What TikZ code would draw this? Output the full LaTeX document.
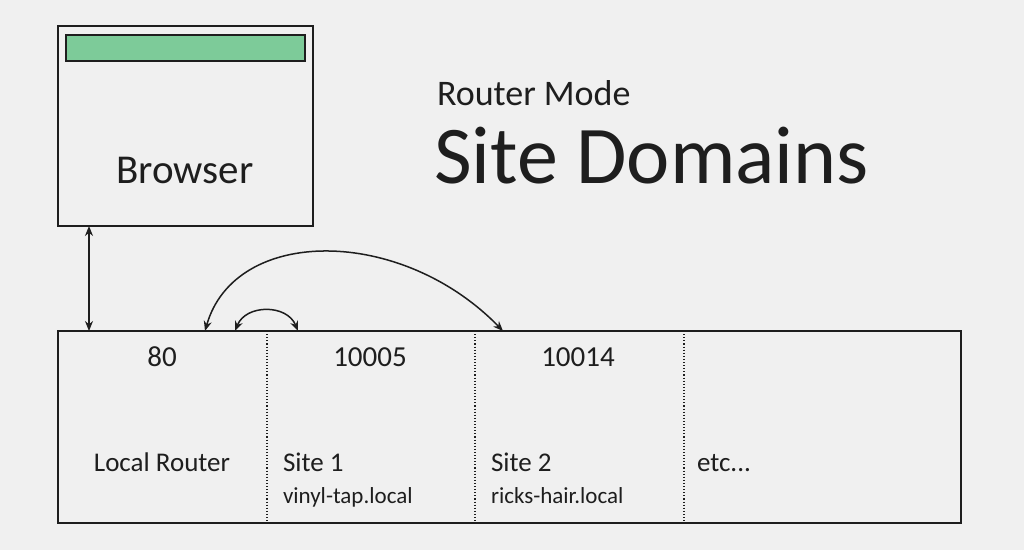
\documentclass[tikz,border=0pt]{standalone}
\usepackage{fontspec}
\setmainfont{Carlito}
\usetikzlibrary{arrows.meta}
\definecolor{bg}{HTML}{F0F0F0}
\definecolor{barg}{HTML}{7DCB99}
\definecolor{ink}{HTML}{1E1E1E}
\tikzset{
  frame/.style={draw=ink, line width=1.5pt, inner sep=0pt, outer sep=0pt},
  divider/.style={draw=ink, line width=1.1pt, dotted},
  link/.style={draw=ink, line width=1.5pt, {Stealth[length=10pt,width=8pt]}-{Stealth[length=10pt,width=8pt]}},
  txt/.style={inner sep=0pt, outer sep=0pt, text=ink},
}
\begin{document}
\begin{tikzpicture}[x=1pt,y=-1pt]
\fill[bg] (0,0) rectangle (1024,550);
\useasboundingbox (0,0) rectangle (1024,550);
% browser
\node[frame, minimum width=255pt, minimum height=200pt, anchor=north west] (browser) at (58,26) {};
\node[frame, fill=barg, line width=1.4pt, minimum width=239pt, minimum height=26pt, anchor=north west] (bar) at (66,35) {};
\node[txt, font=\fontsize{41}{41}\selectfont, anchor=base] (btxt) at (185,183) {Browser};
% title
\node[txt, font=\fontsize{36}{36}\selectfont, anchor=base west] (mode) at (437,105) {Router Mode};
\node[txt, font=\fontsize{82}{82}\selectfont, anchor=base west] (title) at (434,183) {Site Domains};
% ports box
\node[frame, minimum width=903pt, minimum height=192pt, anchor=north west] (ports) at (58,331) {};
\coordinate (d1t) at (267,331); \coordinate (d1b) at (267,523);
\coordinate (d2t) at (475,331); \coordinate (d2b) at (475,523);
\coordinate (d3t) at (684,331); \coordinate (d3b) at (684,523);
\draw[divider] (d1t) -- (d1b);
\draw[divider] (d2t) -- (d2b);
\draw[divider] (d3t) -- (d3b);
% labels
\node[txt, font=\fontsize{29}{29}\selectfont, anchor=base] (p80) at (162,366) {80};
\node[txt, font=\fontsize{29}{29}\selectfont, anchor=base] (p5) at (370,366) {10005};
\node[txt, font=\fontsize{29}{29}\selectfont, anchor=base] (p14) at (578,366) {10014};
\node[txt, font=\fontsize{27}{27}\selectfont, anchor=base] (lr) at (162,471) {Local Router};
\node[txt, font=\fontsize{27}{27}\selectfont, anchor=base west] (s1) at (283,471) {Site 1};
\node[txt, font=\fontsize{27}{27}\selectfont, anchor=base west] (s2) at (491,471) {Site 2};
\node[txt, font=\fontsize{27}{27}\selectfont, anchor=base west] (etc) at (697,471) {etc...};
\node[txt, font=\fontsize{23}{23}\selectfont, anchor=base west] (h1) at (283,503) {vinyl-tap.local};
\node[txt, font=\fontsize{23}{23}\selectfont, anchor=base west] (h2) at (491,503) {ricks-hair.local};
% connectors
\coordinate (bv) at (89,226);
\coordinate (pv) at (89,331);
\draw[link] (bv) -- (pv);
\coordinate (a80) at (205,331);
\coordinate (a14) at (503,331);
\draw[link] (a80) .. controls (235,226) and (401,226) .. (a14);
\coordinate (b80) at (235,331);
\coordinate (b5) at (298,331);
\draw[link] (b80) .. controls (246,304) and (287,304) .. (b5);
\end{tikzpicture}
\end{document}
